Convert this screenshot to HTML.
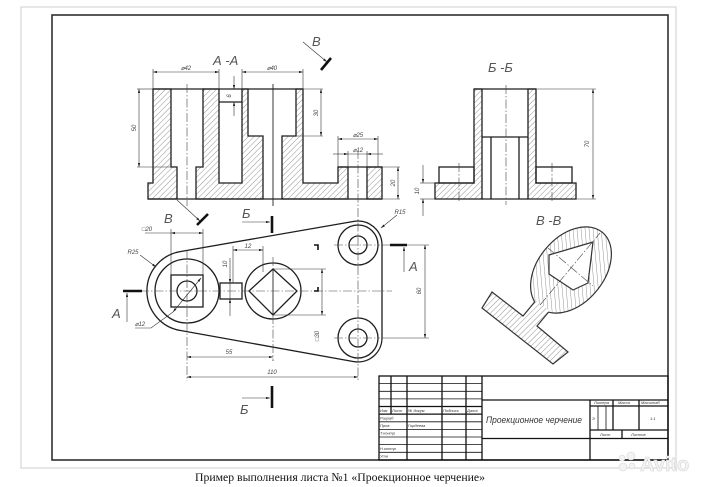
<!DOCTYPE html>
<html><head><meta charset="utf-8"><style>
html,body{margin:0;padding:0;background:#fff;}
svg{display:block;}
.o{fill:none;stroke:#1e1e1e;stroke-width:1.3;}
.t{fill:none;stroke:#333;stroke-width:0.6;}
.c{fill:none;stroke:#444;stroke-width:0.6;stroke-dasharray:9 2 1.5 2;}
.k{fill:none;stroke:#111;stroke-width:2.6;}
.d{font-family:"Liberation Sans",sans-serif;font-style:italic;font-size:6px;fill:#444;}
.L{font-family:"Liberation Sans","DejaVu Sans",sans-serif;font-style:italic;font-size:13px;fill:#555;}
.tb{font-family:"Liberation Sans","DejaVu Sans",sans-serif;font-style:italic;font-size:4px;fill:#333;}
</style></head><body>
<svg width="720" height="487" viewBox="0 0 720 487" xmlns="http://www.w3.org/2000/svg">
<defs>
<pattern id="h" patternUnits="userSpaceOnUse" width="4" height="4" patternTransform="rotate(45)">
<line x1="0" y1="0" x2="0" y2="4" stroke="#666" stroke-width="0.7"/></pattern>
<marker id="a" viewBox="0 0 10 6" refX="10" refY="3" markerWidth="5" markerHeight="2.4" orient="auto-start-reverse" markerUnits="userSpaceOnUse"><path d="M0,0 L10,3 L0,6 z" fill="#222"/></marker>
</defs>
<rect width="720" height="487" fill="#fff"/>
<!-- frames -->
<rect x="21" y="7" width="655" height="461" fill="none" stroke="#cfcfcf" stroke-width="1"/>
<rect x="52" y="15" width="616" height="445" fill="none" stroke="#222" stroke-width="1.5"/>

<!-- ===== A-A section ===== -->
<text class="L" x="213" y="65">А -А</text>
<g fill="url(#h)" stroke="#1e1e1e" stroke-width="1.3">
<path d="M153,89 L171,89 L171,167 L177,167 L177,199 L148,199 L148,183 L153,183 Z"/>
<path d="M203,89 L219,89 L219,183 L242,183 L242,89 L248,89 L248,136 L263,136 L263,199 L196,199 L196,167 L203,167 Z"/>
<path d="M296,89 L303,89 L303,183 L338,183 L338,167 L348,167 L348,199 L282,199 L282,136 L296,136 Z"/>
<path d="M367,167 L382,167 L382,199 L367,199 Z"/>
</g>
<g class="o">
<line x1="148" y1="199" x2="382" y2="199"/>
<line x1="153" y1="89" x2="303" y2="89"/>
<line x1="219" y1="102" x2="242" y2="102"/>
<line x1="338" y1="167" x2="382" y2="167"/>
</g>
<g class="t">
<line x1="137" y1="89" x2="153" y2="89"/><line x1="303" y1="89" x2="323" y2="89"/>
<line x1="137" y1="167" x2="171" y2="167"/>
<line x1="296" y1="136" x2="323" y2="136"/>
<line x1="153" y1="69" x2="153" y2="89"/><line x1="219" y1="69" x2="219" y2="89"/>
<line x1="242" y1="69" x2="242" y2="89"/><line x1="303" y1="69" x2="303" y2="89"/>
<line x1="338" y1="136" x2="338" y2="167"/><line x1="378" y1="136" x2="378" y2="167"/>
<line x1="348" y1="151" x2="348" y2="167"/><line x1="367" y1="151" x2="367" y2="167"/>
<line x1="382" y1="167" x2="400" y2="167"/><line x1="382" y1="199" x2="400" y2="199"/>
<line x1="153" y1="72" x2="219" y2="72" marker-start="url(#a)" marker-end="url(#a)"/>
<line x1="242" y1="72" x2="303" y2="72" marker-start="url(#a)" marker-end="url(#a)"/>
<line x1="139" y1="89" x2="139" y2="167" marker-start="url(#a)" marker-end="url(#a)"/>
<line x1="234" y1="76" x2="234" y2="89" marker-end="url(#a)"/>
<line x1="234" y1="116" x2="234" y2="102" marker-end="url(#a)"/>
<line x1="321" y1="89" x2="321" y2="136" marker-start="url(#a)" marker-end="url(#a)"/>
<line x1="338" y1="139" x2="378" y2="139" marker-start="url(#a)" marker-end="url(#a)"/>
<line x1="333" y1="154" x2="348" y2="154" marker-end="url(#a)"/>
<line x1="383" y1="154" x2="367" y2="154" marker-end="url(#a)"/>
<line x1="348" y1="154" x2="367" y2="154"/>
<line x1="398" y1="167" x2="398" y2="199" marker-start="url(#a)" marker-end="url(#a)"/>
</g>
<line class="c" x1="187" y1="84" x2="187" y2="206"/>
<line x1="273" y1="84" x2="273" y2="206" stroke="#222" stroke-width="0.9"/>
<line class="c" x1="358" y1="150" x2="358" y2="206"/>
<text class="d" x="186" y="70" text-anchor="middle">⌀42</text>
<text class="d" x="272" y="70" text-anchor="middle">⌀40</text>
<text class="d" transform="translate(136,128) rotate(-90)" text-anchor="middle">50</text>
<text class="d" transform="translate(231,96) rotate(-90)" text-anchor="middle">6</text>
<text class="d" transform="translate(318,113) rotate(-90)" text-anchor="middle">30</text>
<text class="d" x="358" y="137" text-anchor="middle">⌀25</text>
<text class="d" x="358" y="152" text-anchor="middle">⌀12</text>
<text class="d" transform="translate(395,183) rotate(-90)" text-anchor="middle">20</text>
<!-- B arrow top -->
<text class="L" x="312" y="46">В</text>
<line class="t" x1="303" y1="42" x2="327" y2="62" marker-end="url(#a)"/>
<line class="k" x1="321" y1="70" x2="331" y2="58" stroke-width="2.2"/>

<!-- ===== Б-Б section ===== -->
<text class="L" x="488" y="72">Б -Б</text>
<g fill="url(#h)" stroke="#1e1e1e" stroke-width="1.3">
<path d="M474,89 L482,89 L482,199 L435,199 L435,183 L474,183 Z"/>
<path d="M528,89 L536,89 L536,183 L576,183 L576,199 L528,199 Z"/>
</g>
<g class="o">
<rect x="439" y="167" width="35" height="16"/>
<rect x="536" y="167" width="36" height="16"/>
<line x1="474" y1="89" x2="536" y2="89"/>
<line x1="482" y1="137" x2="528" y2="137"/>
<line x1="491" y1="137" x2="491" y2="199"/>
<line x1="519" y1="137" x2="519" y2="199"/>
<line x1="482" y1="199" x2="528" y2="199"/>
</g>
<line class="c" x1="506" y1="85" x2="506" y2="205"/>
<line class="c" x1="459" y1="163" x2="459" y2="203"/>
<line class="c" x1="552" y1="163" x2="552" y2="203"/>
<g class="t">
<line x1="536" y1="89" x2="596" y2="89"/>
<line x1="576" y1="199" x2="596" y2="199"/>
<line x1="593" y1="89" x2="593" y2="199" marker-start="url(#a)" marker-end="url(#a)"/>
<line x1="420" y1="183" x2="435" y2="183"/><line x1="420" y1="199" x2="435" y2="199"/>
<line x1="423" y1="165" x2="423" y2="183" marker-end="url(#a)"/>
<line x1="423" y1="216" x2="423" y2="199" marker-end="url(#a)"/>
</g>
<text class="d" transform="translate(589,144) rotate(-90)" text-anchor="middle">70</text>
<text class="d" transform="translate(419,191) rotate(-90)" text-anchor="middle">10</text>

<!-- ===== Plan view ===== -->
<path class="o" d="M180.1,251.6 L353.9,221.4 A24,24 0 0 1 382,245 L382,338 A24,24 0 0 1 353.8,361.6 L179.9,330.4 A40,40 0 0 1 180.1,251.6 Z"/>
<g class="o">
<circle cx="187" cy="291" r="32"/>
<rect x="171" y="275" width="32" height="32"/>
<circle cx="187" cy="291" r="10"/>
<circle cx="273" cy="291" r="28"/>
<path d="M249,291 L273,269 L297,291 L273,315 Z"/>
<rect x="220" y="283" width="22" height="16"/>
<circle cx="358" cy="245" r="20"/><circle cx="358" cy="245" r="9"/>
<circle cx="358" cy="338" r="20"/><circle cx="358" cy="338" r="9"/>
</g>
<line x1="273" y1="269" x2="273" y2="315" stroke="#222" stroke-width="0.9"/>
<g class="c">
<line x1="140" y1="291" x2="392" y2="291"/>
<line x1="187" y1="250" x2="187" y2="381"/>
<line x1="273" y1="257" x2="273" y2="361"/>
<line x1="358" y1="208" x2="358" y2="381"/>
<line x1="334" y1="245" x2="380" y2="245"/>
<line x1="334" y1="338" x2="380" y2="338"/>
</g>
<g class="t">
<line x1="273" y1="361" x2="273" y2="360"/>
<line x1="382" y1="245" x2="429" y2="245"/>
<line x1="382" y1="338" x2="429" y2="338"/>
<line x1="425" y1="245" x2="425" y2="338" marker-start="url(#a)" marker-end="url(#a)"/>
<line x1="171" y1="229" x2="171" y2="275"/><line x1="203" y1="229" x2="203" y2="275"/>
<line x1="145" y1="233" x2="171" y2="233"/>
<line x1="171" y1="233" x2="203" y2="233" marker-start="url(#a)" marker-end="url(#a)"/>
<line x1="233" y1="246" x2="233" y2="283"/><line x1="263" y1="246" x2="263" y2="272"/>
<line x1="233" y1="250" x2="263" y2="250" marker-start="url(#a)" marker-end="url(#a)"/>
<line x1="230" y1="258" x2="230" y2="283" marker-end="url(#a)"/>
<line x1="230" y1="316" x2="230" y2="299" marker-end="url(#a)"/>
<line x1="230" y1="283" x2="230" y2="299"/>
<line x1="273" y1="269" x2="326" y2="269"/><line x1="273" y1="315" x2="326" y2="315"/>
<line x1="322" y1="269" x2="322" y2="315" marker-start="url(#a)" marker-end="url(#a)"/>
<line x1="187" y1="357" x2="273" y2="357" marker-start="url(#a)" marker-end="url(#a)"/>
<line x1="187" y1="377" x2="358" y2="377" marker-start="url(#a)" marker-end="url(#a)"/>
<line x1="140" y1="255" x2="156" y2="267" marker-end="url(#a)"/>
<line x1="397" y1="215" x2="381" y2="228" marker-end="url(#a)"/>
<line x1="173" y1="312" x2="201" y2="278" marker-start="url(#a)" marker-end="url(#a)"/>
<polyline points="135,328 151,328 173,312"/>
</g>
<text class="d" x="147" y="231" text-anchor="middle">□20</text>
<text class="d" x="248" y="248" text-anchor="middle">12</text>
<text class="d" transform="translate(227,264) rotate(-90)" text-anchor="middle">10</text>
<text class="d" transform="translate(319,336) rotate(-90)" text-anchor="middle">□30</text>
<text class="d" transform="translate(421,291) rotate(-90)" text-anchor="middle">60</text>
<text class="d" x="229" y="354" text-anchor="middle">55</text>
<text class="d" x="272" y="374" text-anchor="middle">110</text>
<text class="d" x="133" y="254" text-anchor="middle">R25</text>
<text class="d" x="400" y="214" text-anchor="middle">R15</text>
<text class="d" x="140" y="326" text-anchor="middle">⌀12</text>
<!-- small marks -->
<path d="M314,245 L318,245 L318,250" fill="none" stroke="#111" stroke-width="1.6"/>
<path d="M314,291 L318,291 L318,287" fill="none" stroke="#111" stroke-width="1.6"/>
<!-- section markers -->
<line class="k" x1="123" y1="291" x2="142" y2="291"/>
<line class="t" x1="127" y1="322" x2="127" y2="293" marker-end="url(#a)"/>
<text class="L" x="112" y="318">А</text>
<line class="k" x1="390" y1="245" x2="407" y2="245"/>
<line class="t" x1="404" y1="272" x2="404" y2="247" marker-end="url(#a)"/>
<text class="L" x="409" y="271">А</text>
<line class="k" x1="272" y1="216" x2="272" y2="233"/>
<line class="t" x1="242" y1="222" x2="270" y2="222" marker-end="url(#a)"/>
<text class="L" x="242" y="218">Б</text>
<line class="k" x1="272" y1="386" x2="272" y2="408"/>
<line class="t" x1="242" y1="398" x2="270" y2="398" marker-end="url(#a)"/>
<text class="L" x="240" y="414">Б</text>
<text class="L" x="164" y="223">В</text>
<line class="t" x1="177" y1="200" x2="200" y2="221" marker-end="url(#a)"/>
<line class="k" x1="197" y1="225" x2="208" y2="214" stroke-width="2.2"/>

<!-- ===== В-В section ===== -->
<text class="L" x="536" y="225">В -В</text>
<ellipse cx="571" cy="270" rx="49" ry="33" transform="rotate(-50 571 270)" fill="#fff"/>
<ellipse cx="571" cy="270" rx="49" ry="33" transform="rotate(-50 571 270)" fill="url(#h)" stroke="#333" stroke-width="1.2"/>
<path d="M492,292 L523,316 L535.7,300.6 L549.7,310.6 L537,326 L568,352 L553,364 L482,308 Z" fill="#fff"/>
<path d="M492,292 L523,316 L535.7,300.6 L549.7,310.6 L537,326 L568,352 L553,364 L482,308 Z" fill="url(#h)"/>
<polyline points="534.8,301.7 523,316 492,292 482,308 553,364 568,352 537,326 548.5,312.1" fill="none" stroke="#333" stroke-width="1.2"/>
<path d="M549,255 L593,242 L588,283 L573,290 L549,274 Z" fill="#fff" stroke="#333" stroke-width="1.2"/>
<line class="c" x1="540" y1="305" x2="600" y2="233" stroke="#888"/>
<line class="c" x1="548" y1="248" x2="593" y2="286" stroke="#888"/>

<!-- ===== Title block ===== -->
<g stroke="#111" stroke-width="1.3" fill="none">
<rect x="379" y="376" width="289" height="84"/>
<line x1="482" y1="376" x2="482" y2="460"/>
<line x1="482" y1="400" x2="668" y2="400"/>
<line x1="482" y1="438.5" x2="668" y2="438.5"/>
<line x1="590" y1="400" x2="590" y2="460"/>
<line x1="590" y1="406" x2="668" y2="406"/>
<line x1="590" y1="430" x2="668" y2="430"/>
<line x1="613" y1="400" x2="613" y2="430"/>
<line x1="639" y1="400" x2="639" y2="430"/>
<line x1="622" y1="430" x2="622" y2="438.5"/>
<line x1="391" y1="376" x2="391" y2="414"/>
<line x1="407" y1="376" x2="407" y2="460"/>
<line x1="442" y1="376" x2="442" y2="460"/>
<line x1="466" y1="376" x2="466" y2="460"/>
<line x1="379" y1="406.5" x2="482" y2="406.5"/>
<line x1="379" y1="414.1" x2="482" y2="414.1"/>
</g>
<g stroke="#111" stroke-width="0.8">
<line x1="379" y1="383.6" x2="482" y2="383.6"/>
<line x1="379" y1="391.3" x2="482" y2="391.3"/>
<line x1="379" y1="398.9" x2="482" y2="398.9"/>
<line x1="379" y1="421.8" x2="482" y2="421.8"/>
<line x1="379" y1="429.4" x2="482" y2="429.4"/>
<line x1="379" y1="437" x2="482" y2="437"/>
<line x1="379" y1="444.6" x2="482" y2="444.6"/>
<line x1="379" y1="452.3" x2="482" y2="452.3"/>
<line x1="598" y1="406" x2="598" y2="430"/>
<line x1="606" y1="406" x2="606" y2="430"/>
</g>
<text class="tb" x="380" y="412">Изм</text>
<text class="tb" x="392" y="412">Лист</text>
<text class="tb" x="408" y="412">№ докум</text>
<text class="tb" x="443" y="412">Подпись</text>
<text class="tb" x="467" y="412">Дата</text>
<text class="tb" x="380" y="419.5">Разраб</text>
<text class="tb" x="380" y="427">Пров</text>
<text class="tb" x="408" y="427">Гордеева</text>
<text class="tb" x="380" y="434.5">Т.контр</text>
<text class="tb" x="380" y="450">Н.контр</text>
<text class="tb" x="380" y="457.5">Утв</text>
<text class="tb" x="594" y="404">Литера</text>
<text class="tb" x="618" y="404">Масса</text>
<text class="tb" x="641" y="404">Масштаб</text>
<text class="tb" x="592" y="420">Э</text>
<text class="tb" x="650" y="420">1:1</text>
<text class="tb" x="600" y="436">Лист</text>
<text class="tb" x="631" y="436">Листов</text>
<text x="486" y="423" font-family="'Liberation Sans','DejaVu Sans',sans-serif" font-style="italic" font-size="9" fill="#333" textLength="96" lengthAdjust="spacingAndGlyphs">Проекционное черчение</text>

<!-- watermark -->
<g fill="#f3f3f3" stroke="#d6d6d6" stroke-width="0.6">
<circle cx="622" cy="458" r="3"/><circle cx="631" cy="456" r="4"/>
<circle cx="623" cy="467" r="4"/><circle cx="632" cy="466" r="3"/>
<text x="640" y="471" font-family="'Liberation Sans',sans-serif" font-weight="bold" font-size="20">Avito</text>
</g>

<!-- caption -->
<text x="195" y="481" font-family="'Liberation Serif','DejaVu Serif',serif" font-size="12" fill="#111" textLength="290" lengthAdjust="spacingAndGlyphs">Пример выполнения листа №1 «Проекционное черчение»</text>
</svg>
</body></html>
